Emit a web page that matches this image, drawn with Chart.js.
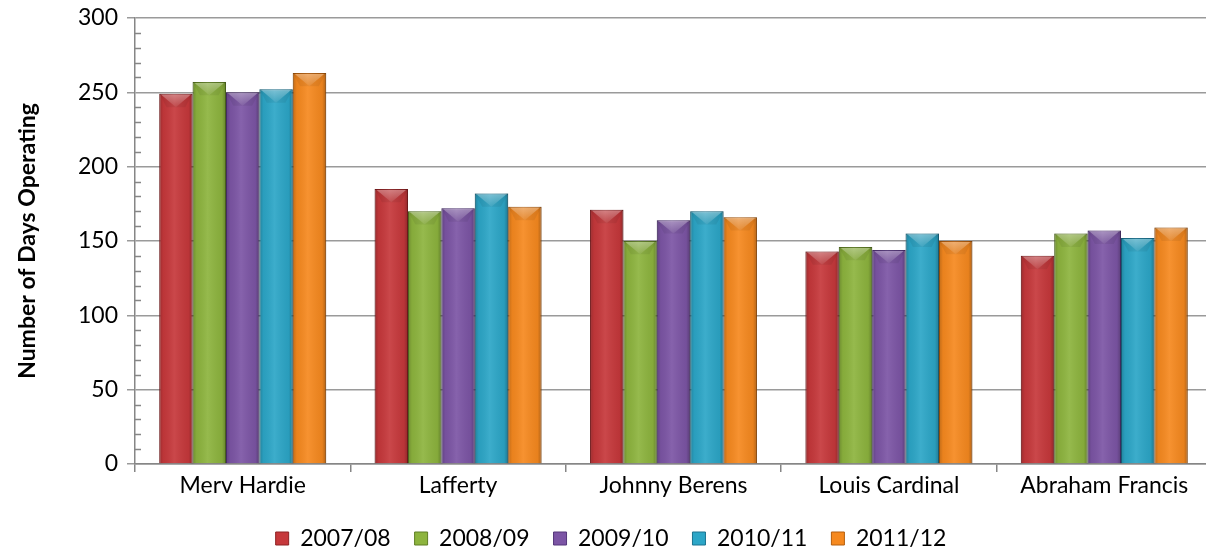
<!DOCTYPE html>
<html>
<head>
<meta charset="utf-8">
<title>Number of Days Operating</title>
<script src="https://cdn.jsdelivr.net/npm/chart.js@4.4.1/dist/chart.umd.min.js"></script>
<style>
  html, body { margin: 0; padding: 0; background: #fff; overflow: hidden; }
  #wrap { position: relative; width: 1212px; height: 560px; }
</style>
</head>
<body>
<div id="wrap"><canvas id="days-chart"></canvas></div>
<script>
// Ferries / crossings and their operating days per season
const crossings = ["Merv Hardie", "Lafferty", "Johnny Berens", "Louis Cardinal", "Abraham Francis"];
const seasons = ["2007/08", "2008/09", "2009/10", "2010/11", "2011/12"];

const days0708 = [249, 185, 171, 143, 140];
const days0809 = [257, 170, 150, 146, 155];
const days0910 = [250, 172, 164, 144, 157];
const days1011 = [252, 182, 170, 155, 152];
const days1112 = [263, 173, 166, 150, 159];

const yTicks = [0, 50, 100, 150, 200, 250, 300];

const seriesValues = [days0708, days0809, days0910, days1011, days1112];
const fills = ["#C6383B", "#8DB43E", "#7C55A5", "#2CA6C7", "#F6891F"];
const edges = ["#8E2224", "#5F7E25", "#54377A", "#1B7390", "#B45E0E"];

Chart.defaults.font.family = 'Lato, "Open Sans", sans-serif';
Chart.defaults.color = "#000";

// glossy bevel on top of each bar, like the office 3d style
const bevelPlugin = {
	id: "bevel",
	afterDatasetsDraw(chart) {
		const ctx = chart.ctx;
		chart.data.datasets.forEach((ds, i) => {
			const meta = chart.getDatasetMeta(i);
			if (meta.hidden) return;
			meta.data.forEach((bar) => {
				const w = bar.width;
				const left = bar.x - w / 2;
				const right = bar.x + w / 2;
				const top = bar.y;
				const bottom = bar.base;
				ctx.save();
				// side shading
				const g = ctx.createLinearGradient(left, 0, right, 0);
				g.addColorStop(0, "rgba(0,0,0,0.22)");
				g.addColorStop(0.12, "rgba(0,0,0,0.05)");
				g.addColorStop(0.45, "rgba(255,255,255,0.08)");
				g.addColorStop(0.88, "rgba(0,0,0,0.06)");
				g.addColorStop(1, "rgba(0,0,0,0.28)");
				ctx.fillStyle = g;
				ctx.fillRect(left, top, w, bottom - top);
				// top bevel
				const h = Math.min(14, w * 0.4);
				ctx.beginPath();
				ctx.moveTo(left, top);
				ctx.lineTo(right, top);
				ctx.lineTo(right - w * 0.22, top + h);
				ctx.lineTo(left + w * 0.22, top + h);
				ctx.closePath();
				ctx.fillStyle = "rgba(0,0,0,0.06)";
				ctx.fill();
				ctx.beginPath();
				ctx.moveTo(left + 2, top + 1);
				ctx.lineTo(right - 2, top + 1);
				ctx.lineTo(bar.x, top + h);
				ctx.closePath();
				const tg = ctx.createLinearGradient(0, top, 0, top + h);
				tg.addColorStop(0, "rgba(255,255,255,0.35)");
				tg.addColorStop(1, "rgba(255,255,255,0.05)");
				ctx.fillStyle = tg;
				ctx.fill();
				ctx.restore();
			});
		});
	},
};

// small inner ticks every 10 on the value axis
const minorTicks = {
	id: "minorTicks",
	afterDraw(chart) {
		const y = chart.scales.y;
		const ctx = chart.ctx;
		ctx.save();
		ctx.strokeStyle = "#868686";
		ctx.lineWidth = 1.5;
		for (let v = y.min; v <= y.max; v += 10) {
			if (v % 50 === 0) continue;
			const py = Math.round(y.getPixelForValue(v)) + 0.5;
			ctx.beginPath();
			ctx.moveTo(y.right, py);
			ctx.lineTo(y.right + 6, py);
			ctx.stroke();
		}
		ctx.restore();
	},
};

const data = {
	labels: crossings,
	datasets: seasons.map((s, i) => ({
		label: s,
		data: seriesValues[i],
		backgroundColor: fills[i],
		borderColor: edges[i],
		borderWidth: 1,
		barPercentage: 1,
		categoryPercentage: 0.775,
	})),
};

const config = {
	type: "bar",
	data: data,
	options: {
		responsive: true,
		maintainAspectRatio: false,
		animation: false,
		layout: {
			padding: { top: 18, right: 0, bottom: 0, left: 10 },
		},
		plugins: {
			legend: {
				position: "bottom",
				labels: {
					boxWidth: 13,
					boxHeight: 13,
					padding: 24,
					font: { size: 23 },
				},
			},
			tooltip: { enabled: false },
		},
		scales: {
			x: {
				afterFit: (axis) => {
					axis.height = 39;
				},
				grid: {
					offset: true,
					drawOnChartArea: false,
					color: "#868686",
					lineWidth: 1.5,
					tickLength: 8,
				},
				border: { color: "#868686", width: 1.5 },
				ticks: { font: { size: 23 }, padding: 0 },
			},
			y: {
				min: 0,
				max: 300,
				afterFit: (axis) => {
					axis.width = 125;
					axis.paddingTop = 0;
					axis.paddingBottom = 0;
				},
				afterBuildTicks: (axis) => {
					axis.ticks = yTicks.map((v) => ({ value: v }));
				},
				grid: {
					color: "#9A9A9A",
					lineWidth: 1.5,
					tickLength: 8,
				},
				border: { color: "#868686", width: 1.5 },
				ticks: { font: { size: 23 }, padding: 9 },
				title: {
					display: true,
					text: "Number of Days Operating",
					font: { size: 23, weight: "bold" },
					padding: { bottom: 0 },
				},
			},
		},
	},
	plugins: [bevelPlugin, minorTicks],
};

new Chart(document.getElementById("days-chart").getContext("2d"), config);
</script>
</body>
</html>
